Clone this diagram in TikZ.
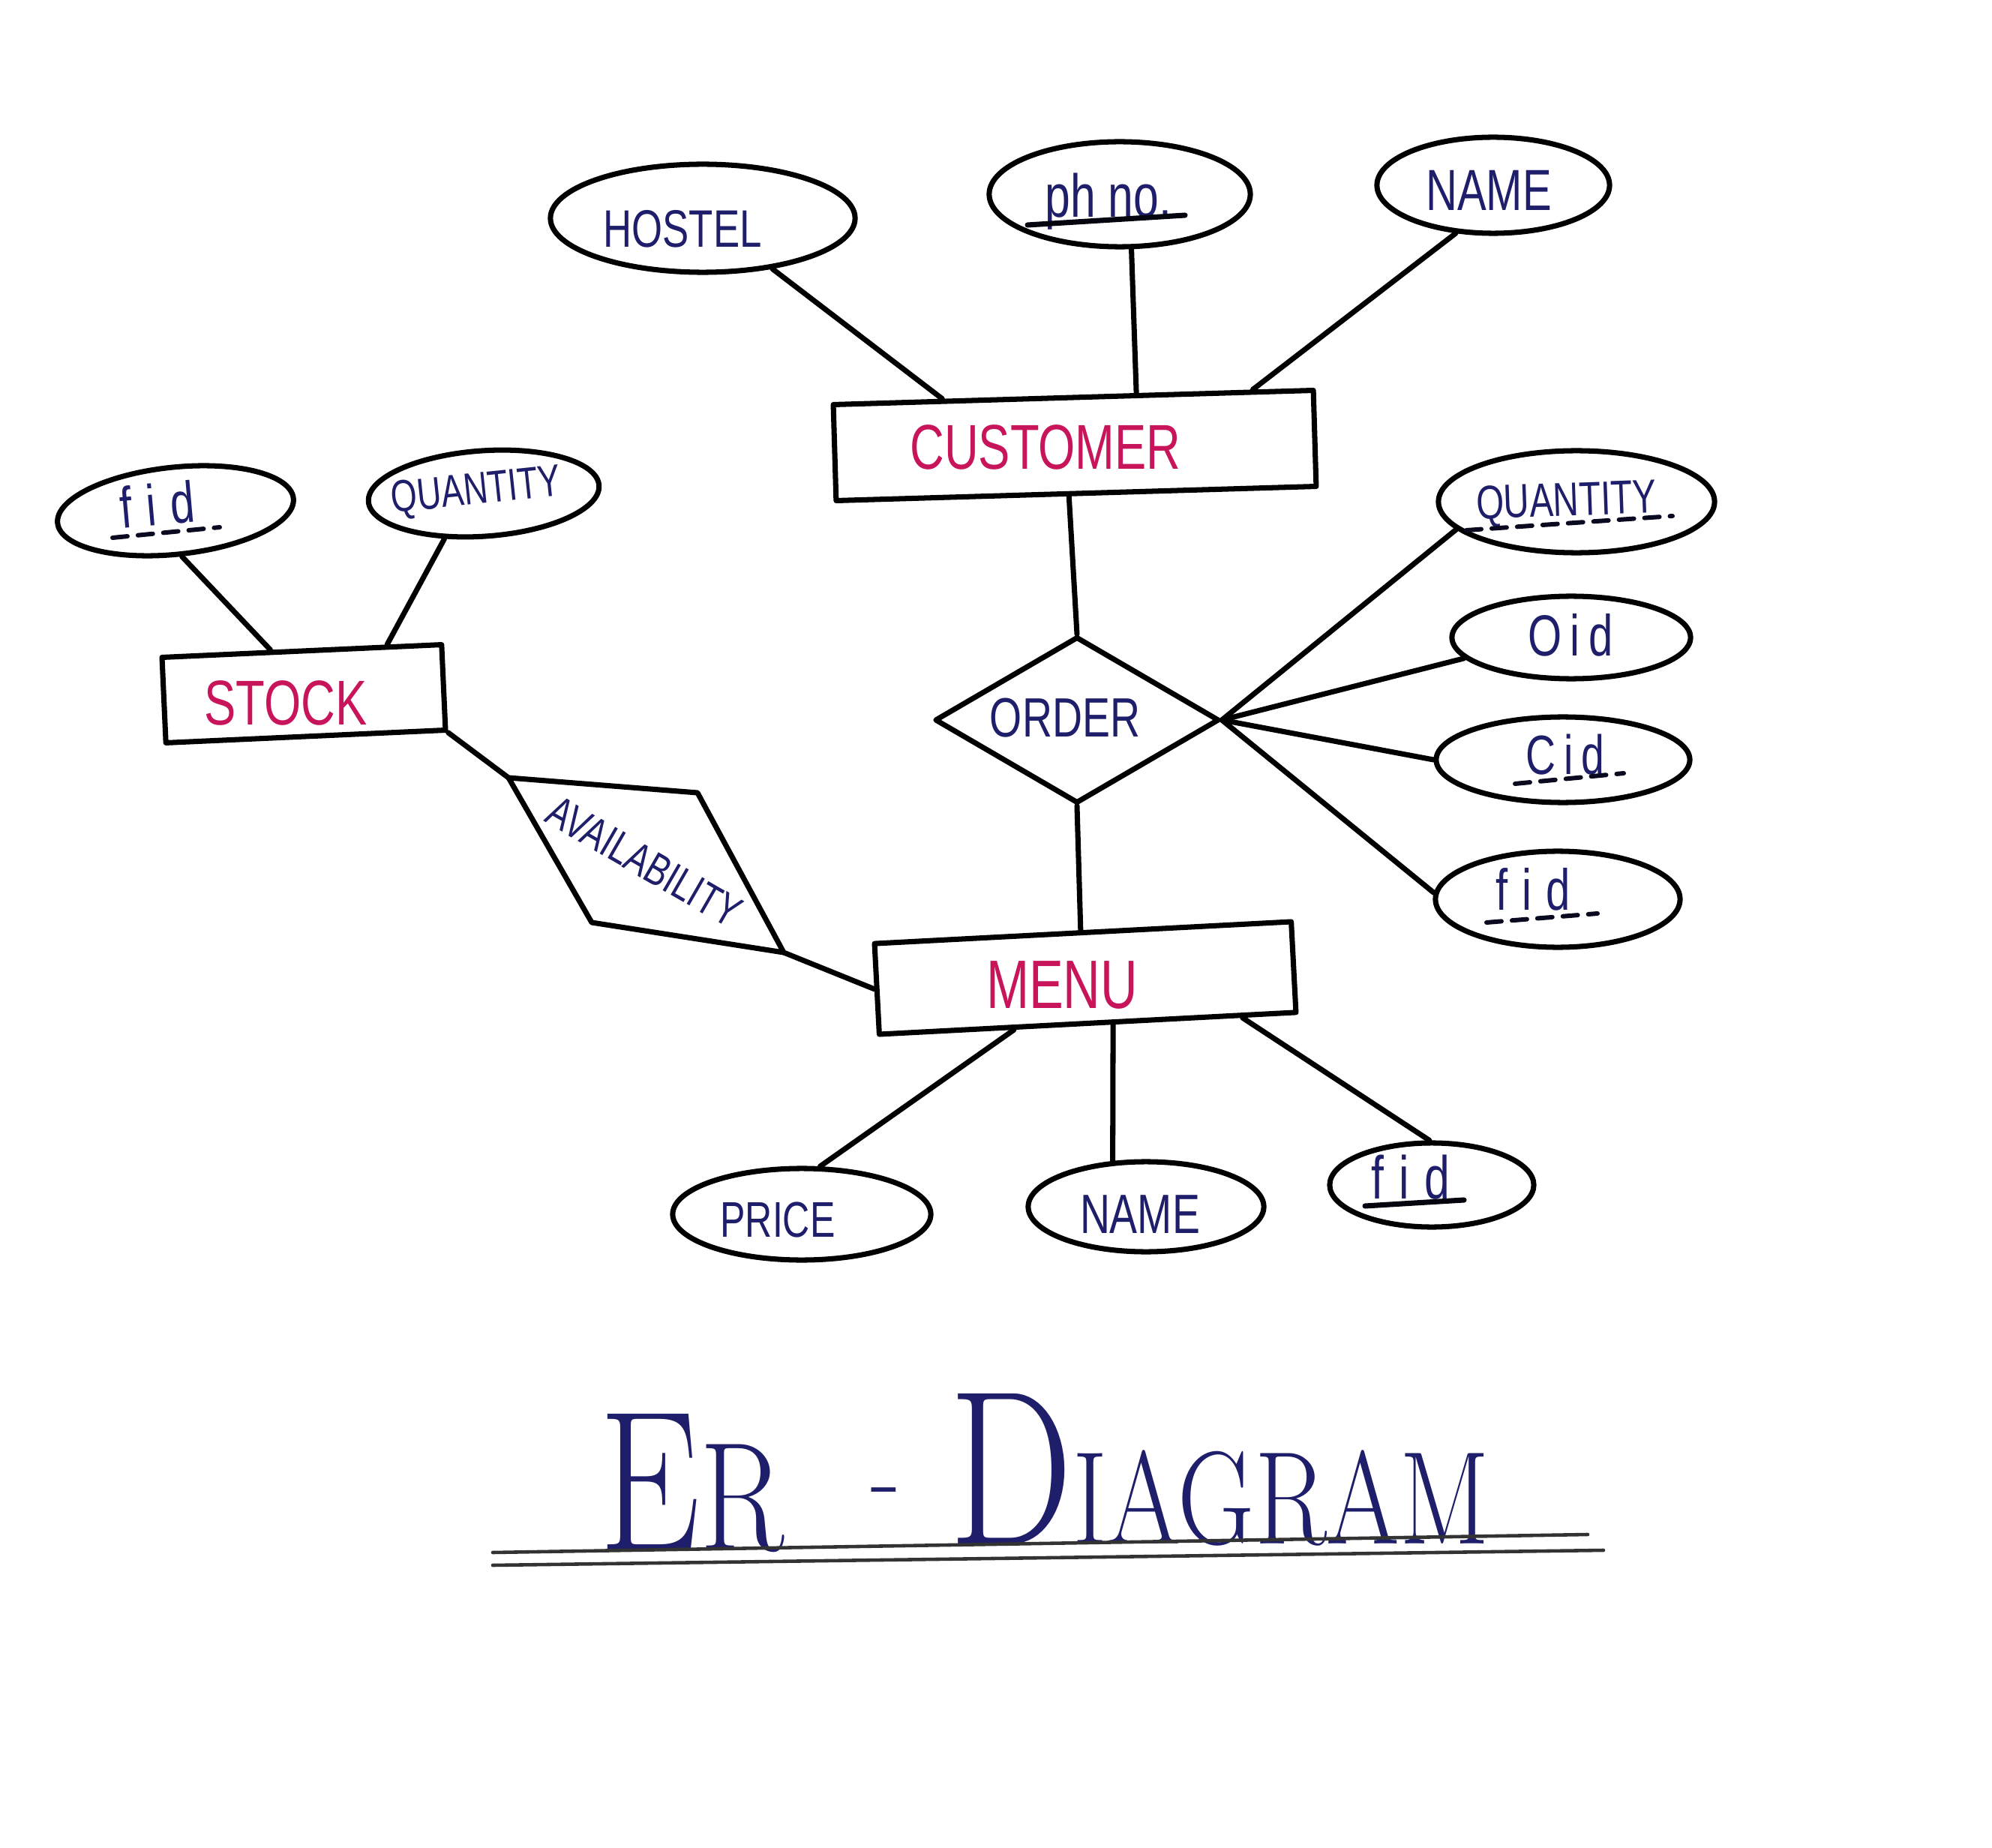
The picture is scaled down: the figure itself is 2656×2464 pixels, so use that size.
\documentclass[tikz,border=0pt]{standalone}
\usepackage{fontspec}
\usepackage{graphicx}
\usetikzlibrary{shapes.geometric,calc}
\newfontfamily\hand[FakeStretch=0.75]{Liberation Sans}
\newfontfamily\handsp[FakeStretch=0.75,LetterSpace=15]{Liberation Sans}
\newfontfamily\handwide[FakeStretch=0.75,LetterSpace=25]{Liberation Sans}
\definecolor{entred}{HTML}{C8145A}
\definecolor{ink}{HTML}{1E1E6A}
\begin{document}
\begin{tikzpicture}[x=0.01cm,y=-0.01cm,
  line width=2pt, line join=round, line cap=round,
  ent/.style={draw, rectangle, inner sep=0pt},
  attr/.style={draw, ellipse, inner sep=0pt},
  rel/.style={draw, diamond, inner sep=0pt},
  etxt/.style={text=entred, inner sep=0pt, font=\hand\fontsize{24}{28}\selectfont},
  atxt/.style={text=ink, inner sep=0pt},
  solidul/.style={line width=2pt, black!85!ink},
  dashul/.style={line width=1.7pt, black!70!ink, dash pattern=on 0.2cm off 0.14cm},
  titleline/.style={line width=1.3pt, black!80}]
\fill[white] (0,0) rectangle (2656,2464);
\useasboundingbox (0,0) rectangle (2656,2464);

% entities
\node[ent, minimum width=6.40cm, minimum height=1.28cm, rotate=1.7] (cust) at (1433,594) {};
\node[ent, minimum width=5.56cm, minimum height=1.21cm, rotate=3] (menu) at (1447,1304) {};
\node[ent, minimum width=3.73cm, minimum height=1.14cm, rotate=2.6] (stock) at (405,925) {};

% relationship
\node[rel, minimum width=3.79cm, minimum height=2.22cm] (order) at (1436,960) {};

% attributes
\node[attr, minimum width=4.06cm, minimum height=1.44cm] (hostel) at (937,291) {};
\node[attr, minimum width=3.48cm, minimum height=1.40cm] (phno) at (1493,259) {};
\node[attr, minimum width=3.10cm, minimum height=1.28cm] (name1) at (1991,247) {};
\node[attr, minimum width=3.68cm, minimum height=1.36cm] (quant2) at (2102,669) {};
\node[attr, minimum width=3.18cm, minimum height=1.10cm] (oid) at (2095,850) {};
\node[attr, minimum width=3.38cm, minimum height=1.14cm] (cid) at (2084,1013) {};
\node[attr, minimum width=3.26cm, minimum height=1.28cm] (fid2) at (2077,1199) {};
\node[attr, minimum width=3.44cm, minimum height=1.22cm] (price) at (1069,1619) {};
\node[attr, minimum width=3.14cm, minimum height=1.20cm] (name2) at (1528,1609) {};
\node[attr, minimum width=2.72cm, minimum height=1.12cm] (fid3) at (1909,1580) {};
\node[attr, minimum width=3.16cm, minimum height=1.16cm, rotate=6] (fid1) at (234,681) {};
\node[attr, minimum width=3.08cm, minimum height=1.14cm, rotate=4] (quant1) at (645,658) {};

% weak relationship (parallelogram)
\coordinate (av1) at (678,1037);
\coordinate (av2) at (930,1057);
\coordinate (av3) at (1045,1270);
\coordinate (av4) at (789,1230);
\draw (av1) -- (av2) -- (av3) -- (av4) -- cycle;

% labels
\node[etxt] (custT) at (1394,596) {CUSTOMER};
\node[etxt] (stockT) at (381,937) {STOCK};
\node[etxt, font=\hand\fontsize{26}{30}\selectfont] (menuT) at (1416,1313) {MENU};
\node[atxt, font=\hand\fontsize{21}{25}\selectfont] (orderT) at (1420,957) {ORDER};
\node[atxt, font=\hand\fontsize{20}{24}\selectfont] (hostelT) at (910,305) {HOSTEL};
\node[atxt, font=\hand\fontsize{23}{27}\selectfont, anchor=base] (phnoT) at (1478,290) {ph no.};
\node[atxt, font=\hand\fontsize{22}{26}\selectfont] (name1T) at (1985,254) {NAME};
\node[atxt, font=\hand\fontsize{18}{22}\selectfont, anchor=base, rotate=2] (quant2T) at (2089,688) {QUANTITY};
\node[atxt, font=\handsp\fontsize{22}{26}\selectfont] (oidT) at (2094,847) {Oid};
\node[atxt, font=\handsp\fontsize{21}{25}\selectfont, anchor=base] (cidT) at (2087,1032) {Cid};
\node[atxt, font=\handwide\fontsize{22}{26}\selectfont, anchor=base] (fid2T) at (2044,1213) {fid};
\node[atxt, font=\hand\fontsize{19}{23}\selectfont] (priceT) at (1037,1626) {PRICE};
\node[atxt, font=\hand\fontsize{21}{25}\selectfont] (name2T) at (1520,1619) {NAME};
\node[atxt, font=\handwide\fontsize{23}{27}\selectfont, anchor=base] (fid3T) at (1881,1598) {fid};
\node[atxt, font=\handwide\fontsize{22}{26}\selectfont, anchor=base, rotate=5] (fid1T) at (212,700) {fid};
\node[atxt, font=\hand\fontsize{17}{21}\selectfont, rotate=6] (quant1T) at (635,657) {QUANTITY};
\node[atxt, font=\hand\fontsize{17}{20}\selectfont, rotate=-30] (availT) at (859,1149) {AVAILABILITY};

% key underlines
\draw[solidul] ([shift={(-108,10)}]phnoT.base) -- ([shift={(102,-3)}]phnoT.base);
\draw[dashul] ([shift={(-134,19)}]quant2T.base) -- ([shift={(141,0)}]quant2T.base);
\draw[dashul] ([shift={(-67,13)}]cidT.base) -- ([shift={(78,-1)}]cidT.base);
\draw[dashul] ([shift={(-62,17)}]fid2T.base) -- ([shift={(86,5)}]fid2T.base);
\draw[solidul] ([shift={(-61,10)}]fid3T.base) -- ([shift={(71,2)}]fid3T.base);
\draw[dashul] ([shift={(-62,17)}]fid1T.base) -- ([shift={(81,3)}]fid1T.base);

% connectors
\draw (hostel.-36) -- ($(cust.north west)!0.23!(cust.north east)$);
\draw (phno.-78) -- ($(cust.north west)!0.63!(cust.north east)$);
\draw (name1.-128) -- ($(cust.north west)!0.87!(cust.north east)$);
\draw ($(cust.south west)!0.485!(cust.south east)$) -- (order.north);
\draw (order.south) -- ($(menu.north west)!0.495!(menu.north east)$);
\draw (order.east) -- (quant2.193);
\draw (order.east) -- (oid.191);
\draw (order.east) -- (cid.180);
\draw (order.east) -- (fid2.177);
\draw ($(menu.south west)!0.325!(menu.south east)$) -- (price.69);
\draw ($(menu.south west)!0.56!(menu.south east)$) -- (name2.126);
\draw ($(menu.south west)!0.867!(menu.south east)$) -- (fid3.93);
\draw ($(stock.north west)!0.39!(stock.north east)$) -- (fid1.-88);
\draw ($(stock.north west)!0.80!(stock.north east)$) -- (quant1.-135);
\draw (stock.south east) -- (av1);
\draw (av3) -- (menu.west);

% title
\node[anchor=base west, inner sep=0pt, text=ink] (er) at (796,2066)
  {\resizebox{2.46cm}{1.81cm}{\fontsize{75}{75}\selectfont E\fontsize{58}{58}\selectfont R}};
\node[inner sep=0pt, text=ink, font=\fontsize{37}{37}\selectfont] (dash) at (1181,1999) {-};
\node[anchor=base west, inner sep=0pt, text=ink] (diag) at (1262,2058)
  {\resizebox{7.2cm}{2.0cm}{\fontsize{83}{83}\selectfont D\fontsize{50}{50}\selectfont IAGRAM}};
\coordinate (u1a) at (657,2070);
\coordinate (u1b) at (2117,2046);
\coordinate (u2a) at (657,2087);
\coordinate (u2b) at (2138,2067);
\draw[titleline] (u1a) -- (u1b);
\draw[titleline] (u2a) -- (u2b);
\end{tikzpicture}
\end{document}
